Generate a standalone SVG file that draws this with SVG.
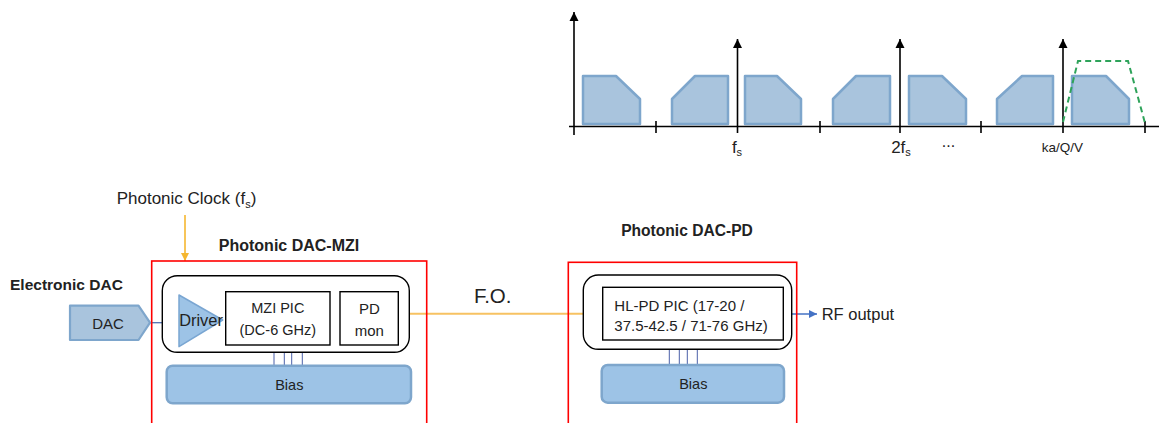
<svg xmlns="http://www.w3.org/2000/svg" width="1159" height="423" viewBox="0 0 1159 423">
<style>
text{font-family:"Liberation Sans",Arial,sans-serif;fill:#222;}
.c{text-anchor:middle;dominant-baseline:central;}
.l{dominant-baseline:central;}
.b{font-weight:bold;}
.ax{stroke:#000;stroke-width:1.6;fill:none;}
.band{fill:#a9c4dd;stroke:#7ea6cc;stroke-width:2.5;stroke-linejoin:round;}
.redbox{fill:none;stroke:#ff0000;stroke-width:1.6;}
.chip{fill:#fff;stroke:#000;stroke-width:1.4;}
.inner{fill:#fff;stroke:#000;stroke-width:1.4;}
.bias{fill:#9dc3e6;stroke:#7ea6cc;stroke-width:2.5;}
.biasline{stroke:#4a5fa8;stroke-width:1;}
</style>
<defs>
<marker id="ah" viewBox="0 0 10 10" refX="10" refY="5" markerWidth="9" markerHeight="10" markerUnits="userSpaceOnUse" orient="auto">
<path d="M0,0 L10,5 L0,10 Z" fill="#000"/>
</marker>
<marker id="ahO" viewBox="0 0 10 10" refX="10" refY="5" markerWidth="8" markerHeight="9" markerUnits="userSpaceOnUse" orient="auto">
<path d="M0,0 L10,5 L0,10 Z" fill="#f5b730"/>
</marker>
<marker id="ahB" viewBox="0 0 10 10" refX="10" refY="5" markerWidth="10" markerHeight="8" markerUnits="userSpaceOnUse" orient="auto">
<path d="M0,0 L10,5 L0,10 Z" fill="#4472c4"/>
</marker>
</defs>

<!-- Spectrum -->
<g id="spectrum">
<path class="band" d="M583,76 H616 L640,99 V124 H583 Z"/>
<path class="band" d="M695,76 H728 V124 H672 V99 Z"/>
<path class="band" d="M745,76 H777 L801,99 V124 H745 Z"/>
<path class="band" d="M856,76 H890 V124 H833 V99 Z"/>
<path class="band" d="M909,76 H942 L966,99 V124 H909 Z"/>
<path class="band" d="M1022,76 H1053 V124 H997 V99 Z"/>
<path class="band" d="M1072,76 H1106 L1129,99 V124 H1072 Z"/>
<line class="ax" x1="569" y1="126.5" x2="1159" y2="126.5"/>
<line class="ax" x1="574" y1="135" x2="574" y2="12" marker-end="url(#ah)"/>
<line class="ax" x1="656" y1="121" x2="656" y2="133"/>
<line class="ax" x1="820" y1="121" x2="820" y2="133"/>
<line class="ax" x1="981" y1="121" x2="981" y2="133"/>
<line class="ax" x1="1145" y1="121" x2="1145" y2="133"/>
<line class="ax" x1="737.5" y1="133" x2="737.5" y2="39" marker-end="url(#ah)"/>
<line class="ax" x1="900" y1="133" x2="900" y2="39" marker-end="url(#ah)"/>
<line class="ax" x1="1063" y1="133" x2="1063" y2="39" marker-end="url(#ah)"/>
<path d="M1063,122 L1078,61 H1128 L1145,123" fill="none" stroke="#2ea35a" stroke-width="2" stroke-dasharray="6,4"/>
<text x="737" y="152.5" style="font-size:17px" text-anchor="middle">f<tspan style="font-size:11px" dy="3.5">s</tspan></text>
<text x="901" y="152.5" style="font-size:17px" text-anchor="middle">2f<tspan style="font-size:11px" dy="3.5">s</tspan></text>
<text x="948.5" y="147" style="font-size:16px" text-anchor="middle">...</text>
<text x="1062.5" y="151.5" style="font-size:13.5px" text-anchor="middle">ka/Q/V</text>
</g>

<!-- Labels -->
<text x="116.7" y="204" style="font-size:17px">Photonic Clock (f<tspan style="font-size:11px" dy="3.5">s</tspan><tspan dy="-3.5">)</tspan></text>
<text class="c b" x="289" y="245" style="font-size:16px">Photonic DAC-MZI</text>
<text class="c b" x="687" y="230" style="font-size:15.6px">Photonic DAC-PD</text>
<text class="l b" x="10" y="284" style="font-size:15.5px">Electronic DAC</text>
<text class="c" x="492.7" y="295" style="font-size:20.5px">F.O.</text>
<text class="l" x="821.7" y="314" style="font-size:16.5px">RF output</text>

<!-- Connectors -->
<g id="connectors">
<line x1="185" y1="215" x2="185" y2="261" stroke="#f5b730" stroke-width="1.6" marker-end="url(#ahO)"/>
<line x1="409" y1="313.8" x2="603" y2="313.8" stroke="#f7c262" stroke-width="2"/>
<line x1="150" y1="322.7" x2="181" y2="322.7" stroke="#4f6fb0" stroke-width="1.3"/>
<line x1="783" y1="314" x2="817" y2="314" stroke="#4472c4" stroke-width="1.3" marker-end="url(#ahB)"/>
<g class="biasline">
<line x1="274" y1="350.5" x2="274" y2="368"/>
<line x1="284.3" y1="350.5" x2="284.3" y2="368"/>
<line x1="291.7" y1="350.5" x2="291.7" y2="368"/>
<line x1="302.3" y1="350.5" x2="302.3" y2="368"/>
<line x1="669.3" y1="348" x2="669.3" y2="366"/>
<line x1="679.3" y1="348" x2="679.3" y2="366"/>
<line x1="687.3" y1="348" x2="687.3" y2="366"/>
<line x1="697.3" y1="348" x2="697.3" y2="366"/>
</g>
</g>

<!-- MZI module -->
<g id="mzi-module">
<rect class="redbox" x="151.7" y="261" width="275" height="170"/>
</g>
<g id="mzi-chip">
<rect class="chip" x="162.3" y="275.7" width="247" height="76.6" rx="15"/>
</g>
<g id="dac">
<path d="M70,305.7 H138.5 L150,322.7 L138.5,340 H70 Z" fill="#a9c4dd" stroke="#7ea6cc" stroke-width="2.2" stroke-linejoin="round"/>
<text class="c" x="108" y="323" style="font-size:15px">DAC</text>
</g>
<g id="driver">
<path d="M179,295 L222.7,320 L179,346.7 Z" fill="#9dc3e6" stroke="#7aa6d2" stroke-width="1.5" stroke-linejoin="round"/>
<text class="c" x="201" y="320" style="font-size:16.4px">Driver</text>
</g>
<g id="mzi-pic">
<rect class="inner" x="225.7" y="291.7" width="104.3" height="53.3"/>
<text class="c" x="277.8" y="308.3" style="font-size:14.5px">MZI PIC</text>
<text class="c" x="277.8" y="330" style="font-size:14.5px">(DC-6 GHz)</text>
</g>
<g id="pd-mon">
<rect class="inner" x="340" y="291.7" width="58.3" height="53.3"/>
<text class="c" x="369.3" y="308.3" style="font-size:15px">PD</text>
<text class="c" x="369.3" y="330" style="font-size:15px">mon</text>
</g>
<g id="bias-mzi">
<rect class="bias" x="166.7" y="365.7" width="244.3" height="37.6" rx="6"/>
<text class="c" x="289.3" y="385" style="font-size:14.5px">Bias</text>
</g>

<!-- PD module -->
<g id="pd-module">
<rect class="redbox" x="568.3" y="262.3" width="228.4" height="170"/>
</g>
<g id="pd-chip">
<rect class="chip" x="583.3" y="275" width="208.4" height="74.3" rx="15"/>
</g>
<g id="hlpd-pic">
<rect class="inner" x="602.7" y="287.3" width="180.6" height="52.7"/>
<text class="l" x="614.3" y="305" style="font-size:15px">HL-PD PIC (17-20 /</text>
<text class="l" x="614.3" y="325" style="font-size:15px">37.5-42.5 / 71-76 GHz)</text>
</g>
<g id="bias-pd">
<rect class="bias" x="601.7" y="365" width="182.3" height="37.7" rx="6"/>
<text class="c" x="693.3" y="383.5" style="font-size:14.5px">Bias</text>
</g>
</svg>
